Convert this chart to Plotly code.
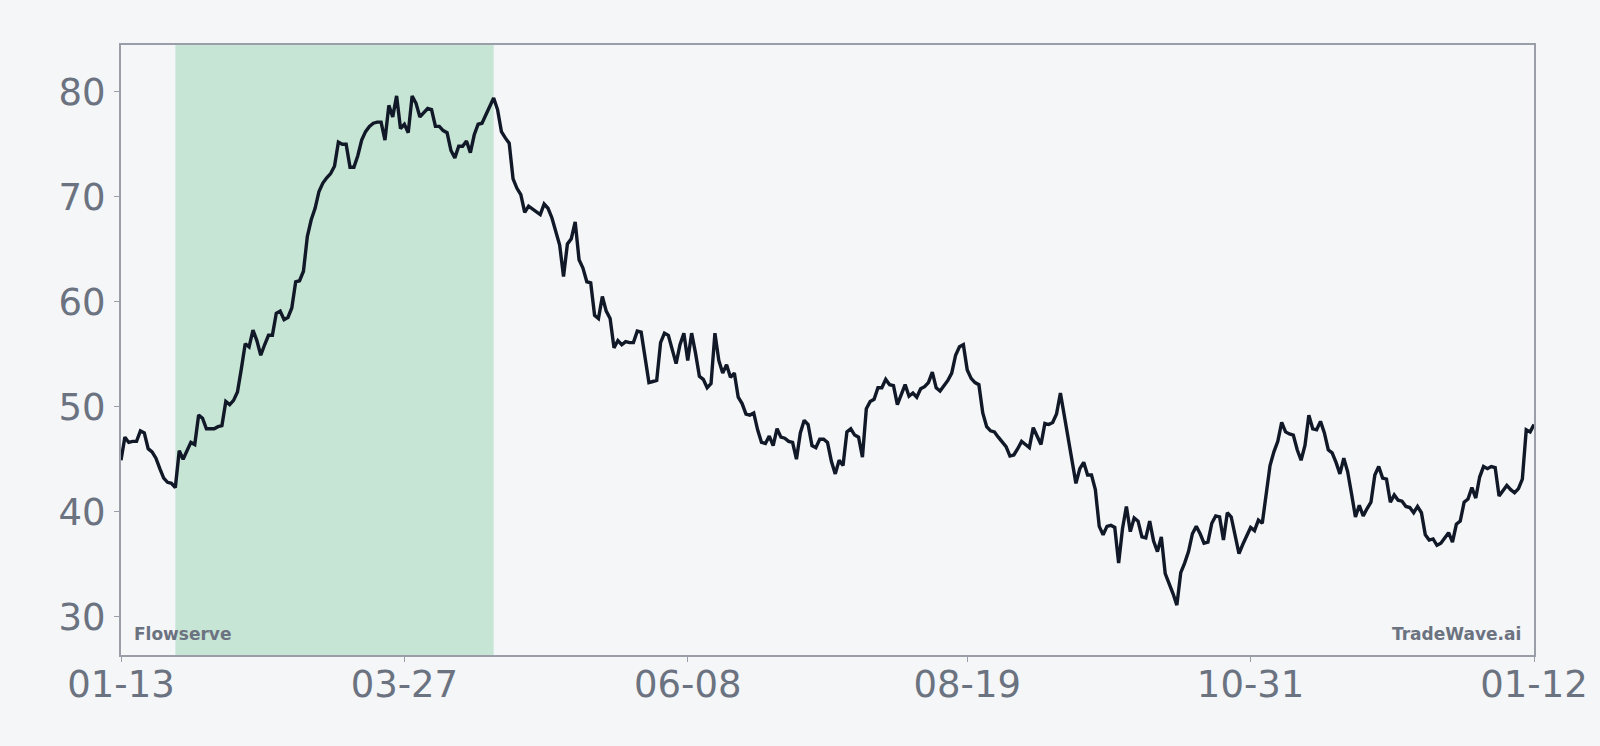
import pandas as pd
import plotly.graph_objects as go

# Daily closing values
start_date = "2025-01-13"
prices = [
    44.9, 47.1, 46.6, 46.7, 46.7, 47.7, 47.5, 46.0, 45.7, 45.1,
    44.1, 43.2, 42.8, 42.7, 42.3, 45.8, 45.0, 45.9, 46.6, 46.4,
    49.2, 48.9, 47.9, 47.9, 47.9, 48.1, 48.2, 50.5, 50.2, 50.6,
    51.4, 53.6, 56.0, 55.7, 57.3, 56.3, 54.9, 55.9, 56.8, 56.8,
    58.9, 59.1, 58.3, 58.5, 59.4, 61.9, 62.0, 62.9, 66.2, 67.8,
    68.9, 70.5, 71.3, 71.8, 72.2, 72.9, 75.2, 75.0, 75.0, 72.8,
    72.8, 73.9, 75.4, 76.2, 76.7, 77.0, 77.1, 77.1, 75.4, 78.7,
    77.6, 79.6, 76.5, 76.9, 76.1, 79.6, 78.9, 77.6, 78.0, 78.4,
    78.3, 76.7, 76.7, 76.3, 76.1, 74.4, 73.7, 74.8, 74.8, 75.3,
    74.2, 75.9, 76.9, 77.0, 77.8, 78.6, 79.4, 78.3, 76.2, 75.6,
    75.1, 71.7, 70.8, 70.2, 68.5, 69.1, 68.8, 68.5, 68.3, 69.3,
    68.9, 68.0, 66.8, 65.4, 62.4, 65.5, 66.0, 67.6, 64.0, 63.2,
    61.9, 61.8, 58.7, 58.4, 60.5, 59.1, 58.4, 55.6, 56.3, 55.9,
    56.2, 56.1, 56.1, 57.2, 57.1, 54.9, 52.3, 52.4, 52.5, 56.1,
    57.0, 56.8, 55.4, 54.1, 55.9, 57.0, 54.4, 57.0, 55.1, 52.9,
    52.6, 51.8, 52.2, 57.0, 54.4, 53.2, 54.0, 52.8, 53.2, 50.9,
    50.3, 49.3, 49.2, 49.4, 47.8, 46.6, 46.5, 47.2, 46.3, 47.9,
    47.1, 47.0, 46.7, 46.6, 45.0, 47.5, 48.7, 48.3, 46.3, 46.1,
    46.9, 46.9, 46.6, 44.8, 43.6, 44.9, 44.4, 47.6, 47.9, 47.3,
    47.1, 45.2, 49.8, 50.5, 50.7, 51.8, 51.8, 52.6, 52.1, 52.0,
    50.2, 51.2, 52.1, 51.0, 51.3, 50.9, 51.7, 51.9, 52.3, 53.3,
    51.8, 51.5, 52.0, 52.5, 53.2, 54.9, 55.7, 55.9, 53.5, 52.7,
    52.3, 52.1, 49.4, 48.1, 47.7, 47.6, 47.1, 46.7, 46.2, 45.3,
    45.4, 46.0, 46.7, 46.4, 46.1, 48.0, 47.1, 46.4, 48.4, 48.3,
    48.5, 49.3, 51.3, 49.2, 47.0, 44.9, 42.7, 44.1, 44.7, 43.5,
    43.5, 42.1, 38.6, 37.8, 38.6, 38.7, 38.5, 35.1, 38.4, 40.5,
    38.1, 39.4, 39.1, 37.6, 37.5, 39.1, 37.2, 36.2, 37.6, 34.1,
    33.2, 32.2, 31.1, 34.2, 35.1, 36.2, 37.9, 38.6, 37.9, 37.0,
    37.1, 38.9, 39.6, 39.5, 37.3, 39.9, 39.5, 37.8, 36.0, 36.9,
    37.8, 38.5, 38.2, 39.2, 38.9, 41.6, 44.4, 45.7, 46.7, 48.5,
    47.6, 47.4, 47.3, 45.9, 44.9, 46.3, 49.2, 47.9, 47.8, 48.6,
    47.5, 45.9, 45.6, 44.7, 43.6, 45.1, 43.8, 41.7, 39.5, 40.6,
    39.6, 40.3, 40.9, 43.5, 44.3, 43.2, 43.1, 40.9, 41.6, 41.1,
    41.0, 40.5, 40.4, 39.9, 40.5, 39.9, 37.8, 37.3, 37.4, 36.8,
    37.0, 37.5, 38.0, 37.1, 38.8, 39.1, 40.9, 41.2, 42.3, 41.3,
    43.3, 44.3, 44.1, 44.3, 44.2, 41.5, 42.0, 42.5, 42.1, 41.8,
    42.2, 43.1, 47.8, 47.6, 48.3,
]
dates = pd.date_range(start_date, periods=len(prices), freq="D")

# highlighted rally window (trough -> peak)
shade_start = "2025-01-27"
shade_end = "2025-04-19"

tick_dates = ["2025-01-13", "2025-03-27", "2025-06-08",
              "2025-08-19", "2025-10-31", "2026-01-12"]
y_ticks = [30, 40, 50, 60, 70, 80]

bg = "#f4f6f8"
grey_txt = "#6b7280"
frame = "#9a9ea9"

fig = go.Figure()
fig.add_trace(go.Scatter(
    x=dates, y=prices, mode="lines",
    line=dict(color="#111827", width=3.4),
    hoverinfo="x+y", showlegend=False,
))

fig.add_vrect(x0=shade_start, x1=shade_end, fillcolor="rgba(22,163,74,0.2)",
              line_width=0, layer="below")

fig.update_layout(
    width=1600, height=746,
    margin=dict(l=121, r=64, t=45, b=91),
    paper_bgcolor=bg, plot_bgcolor=bg,
    font=dict(family="DejaVu Sans", color=grey_txt),
    xaxis=dict(
        range=[dates[0], dates[-1]],
        tickvals=tick_dates, tickformat="%m-%d",
        tickfont=dict(size=37, color=grey_txt),
        showgrid=False, zeroline=False,
        showline=True, linecolor=frame, linewidth=2, mirror=True,
        ticks="outside", ticklen=5, tickcolor=frame, tickwidth=1,
        ticklabelstandoff=-9,
    ),
    yaxis=dict(
        range=[26.35, 84.45],
        tickvals=y_ticks,
        tickfont=dict(size=37, color=grey_txt),
        showgrid=False, zeroline=False,
        showline=True, linecolor=frame, linewidth=2, mirror=True,
        ticks="outside", ticklen=5, tickcolor=frame, tickwidth=1,
        ticklabelstandoff=1,
    ),
    annotations=[
        dict(text="Flowserve", xref="paper", yref="paper", x=0, y=0,
             xanchor="left", yanchor="bottom", xshift=11, yshift=9,
             showarrow=False,
             font=dict(size=17, color=grey_txt, family="DejaVu Sans", weight="bold")),
        dict(text="TradeWave.ai", xref="paper", yref="paper", x=1, y=0,
             xanchor="right", yanchor="bottom", xshift=-11, yshift=9,
             showarrow=False,
             font=dict(size=17, color=grey_txt, family="DejaVu Sans", weight="bold")),
    ],
)

# drop the default body margin so the 1600x746 figure fills the window
fig.write_html("out.html", config={"displayModeBar": False},
               post_script="document.body.style.margin='0';"
                           "document.body.style.background='#f4f6f8';")
